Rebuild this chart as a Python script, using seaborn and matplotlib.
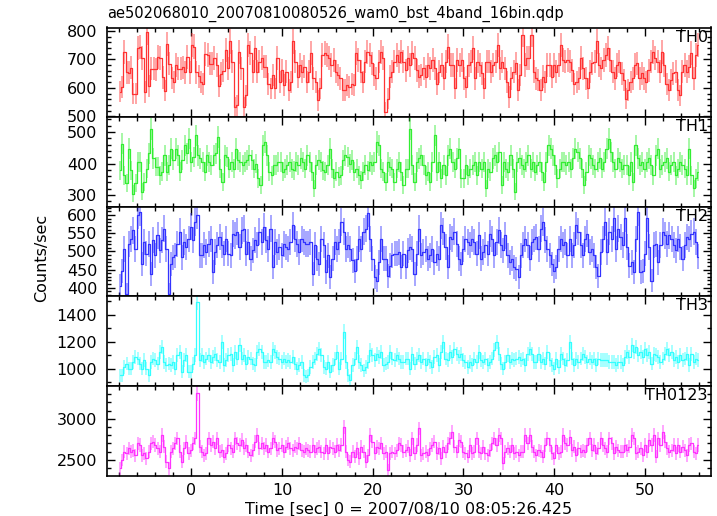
import numpy as np
import matplotlib
matplotlib.use("Agg")
import matplotlib.pyplot as plt
import seaborn as sns
from matplotlib.ticker import MultipleLocator

# light curve settings
T_START = -8.0
T_STOP = 56.0
BIN_EXPOSURE = 0.41  # effective live time per bin (s), used for poisson error bars

title = "ae502068010_20070810080526_wam0_bst_4band_16bin.qdp"
xlabel = "Time [sec] 0 = 2007/08/10 08:05:26.425"
ylabel = "Counts/sec"
names = ["TH0", "TH1", "TH2", "TH3", "TH0123"]

th0 = [
    587, 602, 726, 655, 653, 670, 579, 580, 739, 743, 704, 585, 796, 608, 667, 667,
    665, 708, 704, 637, 590, 755, 685, 635, 620, 680, 667, 667, 672, 655, 708, 655,
    750, 745, 655, 640, 620, 615, 720, 715, 685, 685, 704, 680, 608, 650,
    660, 733, 668, 763, 692, 533, 539, 727, 668, 533, 574, 751, 721, 657, 739, 657,
    692, 704, 674, 674, 615, 598, 645, 598, 704, 621, 662, 609, 657, 592, 621, 763,
    692, 639, 680, 657, 674, 621, 657, 721, 633, 621, 556, 598, 716, 721, 716, 704,
    680, 698, 657, 645, 633, 592, 592, 609, 603, 615, 609, 721, 698, 657, 621, 692,
    727, 716, 686, 645, 633, 692, 727, 704, 515, 562, 639, 657, 692, 716, 692, 727,
    692, 662, 704, 680,
    721, 704, 662, 639, 645, 668, 639, 680, 668, 698, 668, 615, 657, 680, 633, 692,
    745, 680, 680, 598, 698, 680, 698, 633, 603, 680, 692, 739, 633, 692, 680, 651,
    598, 692, 692, 657, 680, 692, 751, 668, 692, 668, 621, 568, 633, 657, 686, 592,
    645, 786, 680, 704, 704, 786, 657, 633, 627, 592, 639, 621, 680, 680, 639, 680,
    657, 680, 751, 698, 692, 698, 692, 662, 615, 621, 633, 704, 668, 633, 598, 657,
    686, 692, 763, 680, 668, 698, 716, 739, 698, 657, 633, 680, 692, 651, 627, 562,
    592, 621, 633, 680, 686, 633, 651, 633, 621, 662, 692, 727, 704, 692, 657, 727,
    680, 615, 592, 627, 651, 657, 592, 574, 657, 680, 657, 674, 721, 633, 716, 751,
]

th1 = [
    379, 463, 363, 337, 447, 379, 305, 337, 405, 405, 311, 342, 384, 432, 510, 416,
    390, 390, 363, 374, 426, 374, 395, 447, 411, 447, 426, 374, 411, 458, 432, 479,
    405, 421, 489, 426, 416, 405, 374, 426, 405, 395, 426, 432, 484, 384, 342, 426,
    421, 384, 405, 384, 447, 411, 405, 395, 405, 411, 426, 411, 384, 400, 353, 332,
    458, 468, 426, 374, 363, 395, 395, 405, 405, 374, 384, 395, 405, 384, 379, 405,
    395, 416, 405, 384, 426, 405, 374, 321, 395, 411, 405, 379, 374, 395, 447, 384,
    353, 374, 358, 363, 411, 426, 421, 400, 411, 374, 384, 363, 347, 374, 395, 379,
    405, 395, 405, 468, 458, 384, 374, 342, 405, 390, 384, 342, 384, 405, 374, 332,
    384, 384, 510, 395,
    342, 405, 416, 426, 395, 363, 374, 342, 405, 489, 374, 405, 353, 395, 363, 426,
    447, 405, 384, 416, 447, 353, 353, 395, 363, 384, 395, 405, 363, 405, 384, 405,
    321, 384, 374, 416, 426, 405, 437, 332, 405, 384, 374, 426, 384, 311, 405, 416,
    395, 384, 405, 426, 384, 405, 374, 395, 405, 374, 342, 405, 458, 447, 426, 395,
    353, 384, 405, 405, 395, 405, 384, 416, 447, 437, 416, 384, 332, 374, 426, 416,
    395, 384, 405, 416, 384, 405, 447, 479, 437, 405, 384, 416, 405, 384, 395, 395,
    363, 405, 342, 458, 416, 395, 405, 384, 405, 416, 395, 363, 426, 447, 384, 395,
    405, 416, 374, 395, 405, 363, 384, 405, 395, 384, 363, 447, 363, 321, 353, 374,
]

th2 = [
    406, 447, 507, 382, 521, 535, 558, 507, 600, 609, 466, 526, 494, 521, 438, 531,
    489, 544, 503, 531, 563, 507, 382, 466, 484, 489, 521, 554, 484, 526, 512, 535,
    568, 531, 581, 600, 489, 489, 517, 498, 521, 535, 443, 498, 517, 540, 517, 494,
    535, 494, 489, 549, 544, 554, 512, 558, 563, 494, 526, 480, 503, 531, 517, 554,
    526, 568, 531, 507, 563, 456, 526, 498, 512, 489, 521, 512, 507, 526, 572, 535,
    521, 498, 535, 526, 521, 521, 526, 438, 517, 480, 466, 535, 517, 443, 489, 429,
    480, 526, 507, 526, 581, 554, 507, 517, 507, 475, 447, 480, 535, 507, 554, 563,
    605, 535, 480, 429, 419, 470, 535, 480, 480, 433, 461, 489, 494, 494, 498, 456,
    494, 456, 503, 512, 507,
    438, 494, 563, 489, 498, 507, 480, 489, 507, 470, 494, 480, 572, 554, 512, 456,
    540, 535, 554, 521, 480, 466, 507, 535, 526, 517, 535, 526, 494, 544, 480, 498,
    517, 494, 549, 535, 489, 526, 558, 517, 503, 544, 489, 470, 480, 456, 452, 429,
    489, 517, 535, 517, 480, 526, 535, 540, 507, 563, 581, 531, 507, 489, 466, 447,
    456, 507, 535, 517, 526, 489, 535, 489, 517, 572, 554, 517, 489, 535, 549, 498,
    507, 489, 456, 433, 498, 535, 581, 498, 554, 535, 591, 507, 563, 540, 517, 591,
    512, 461, 470, 443, 535, 609, 443, 447, 494, 591, 512, 419, 517, 521, 470, 517,
    554, 544, 521, 544, 535, 517, 503, 535, 512, 480, 517, 540, 535, 549, 554, 526, 485,
]

th3 = [
    951, 951, 1012, 1037, 1000, 1000, 1049, 1086, 1074, 1037, 1000, 1062, 1000, 951, 1049, 1074,
    1062, 1037, 1123, 1160, 1049, 1025, 1037, 1025, 1049, 1000, 1099, 1123, 975, 1062, 1099, 975,
    975, 1037, 1099, 1494, 1062, 1099, 1049, 1074, 1099, 1049, 1086, 1111, 1062, 1049, 1198, 1025,
    1062, 1099, 1111, 1025, 1123, 1074, 1173, 1074, 1099, 1037, 1086, 1074, 1037, 1025, 1123, 1148,
    1123, 1049, 1049, 1062, 1049, 1148, 1123, 1086, 1074, 1049, 1074, 1049, 1062, 1049, 1086, 1037,
    1000, 1025, 1049, 951, 938, 951, 1012, 1049, 1074, 1111, 1148, 1099, 1012, 1000, 1049, 975,
    1025, 1074, 1123, 1000, 1074, 1272, 1049, 951, 914, 1025, 1074, 1160, 1049, 1025, 988, 1012,
    1049, 1136, 1099, 1062, 1111, 1086, 1123, 1025, 1037, 1049, 1123, 1074, 1062, 1099, 1074, 1049,
    1049, 1074, 1074, 1000, 1111, 1037,
    1074, 1099, 1049, 1074, 1025, 1074, 1049, 1012, 1086, 1099, 1025, 1123, 1198, 1074, 1062, 1123,
    1086, 1148, 1111, 1086, 1111, 1062, 1049, 1012, 1049, 1025, 1074, 1049, 1123, 1062, 1049, 1074,
    1025, 1049, 1074, 1136, 1198, 1111, 1037, 1000, 1049, 1099, 1049, 1074, 1062, 1074, 1086, 1062,
    1074, 1025, 1111, 1148, 1111, 1049, 1049, 1111, 1049, 1074, 1037, 1123, 1062, 1025, 1000, 1074,
    1012, 1111, 1074, 1025, 1062, 1198, 1074, 1025, 1074, 1049, 1074, 1111, 1086, 1049, 1074, 1049,
    1074, 1025, 1074, 1062, 1062, 1062, 1062, 1049, 1049, 1049, 1025, 1049, 1049, 1025, 1086, 1123,
    1086, 1173, 1123, 1160, 1099, 1123, 1086, 1148, 1099, 1123, 1037, 1111, 1099, 1086, 1049, 1074,
    1111, 1148, 1099, 1123, 1062, 1086, 1049, 1099, 1062, 1074, 1111, 1025, 1111, 1049, 1074, 1062,
]

th0123 = [
    2394, 2496, 2598, 2577, 2638, 2598, 2618, 2557, 2699, 2679, 2557, 2577, 2516, 2598, 2699, 2720,
    2679, 2638, 2598, 2801, 2659, 2476, 2394, 2598, 2638, 2699, 2760, 2598, 2476, 2638, 2720, 2577,
    2618, 2699, 2760, 3309, 2659, 2598, 2557, 2577, 2760, 2679, 2720, 2638, 2760, 2598, 2618, 2537,
    2577, 2679, 2638, 2598, 2760, 2699, 2679, 2740, 2638, 2679, 2598, 2557, 2618, 2720, 2801, 2638,
    2699, 2638, 2679, 2598, 2638, 2760, 2720, 2618, 2638, 2679, 2598, 2659, 2699, 2638, 2618, 2659,
    2638, 2699, 2618, 2598, 2638, 2618, 2598, 2679, 2598, 2638, 2659, 2598, 2577, 2679, 2577, 2659,
    2638, 2598, 2679, 2618, 2679, 2902, 2598, 2496, 2476, 2598, 2537, 2638, 2516, 2659, 2598, 2476,
    2557, 2801, 2720, 2577, 2659, 2638, 2699, 2577, 2598, 2374, 2577, 2598, 2577, 2618, 2699, 2679,
    2598, 2618, 2659, 2557, 2760, 2577,
    2679, 2882, 2557, 2577, 2598, 2557, 2638, 2679, 2720, 2577, 2638, 2516, 2659, 2598, 2699, 2760,
    2841, 2659, 2598, 2740, 2720, 2598, 2577, 2537, 2679, 2577, 2598, 2760, 2598, 2577, 2659, 2577,
    2557, 2618, 2699, 2760, 2679, 2801, 2760, 2455, 2598, 2638, 2598, 2679, 2577, 2598, 2557, 2598,
    2598, 2801, 2699, 2801, 2659, 2598, 2557, 2618, 2598, 2537, 2679, 2760, 2679, 2577, 2516, 2679,
    2577, 2598, 2801, 2699, 2679, 2780, 2618, 2659, 2557, 2638, 2598, 2618, 2598, 2679, 2760, 2618,
    2679, 2577, 2638, 2760, 2679, 2638, 2598, 2760, 2699, 2577, 2659, 2618, 2598, 2598, 2679, 2618,
    2659, 2801, 2760, 2577, 2598, 2638, 2557, 2679, 2598, 2740, 2679, 2801, 2537, 2760, 2679, 2841,
    2720, 2638, 2598, 2618, 2679, 2577, 2679, 2598, 2659, 2618, 2557, 2679, 2699, 2598, 2577, 2679,
]

series = [th0, th1, th2, th3, th0123]
colors = ["#ff3333", "#33ee33", "#3333ff", "#33ffff", "#ff33ff"]
ylims = [(497, 812), (263, 547), (376, 623), (870, 1536), (2305, 3399)]
major_steps = [100, 100, 50, 200, 500]
minor_steps = [20, 20, 10, 100, 100]

sns.set_style("ticks")
plt.rcParams['font.family'] = ['DejaVu Sans']
plt.rcParams['text.color'] = 'black'
plt.rcParams['axes.labelcolor'] = 'black'
plt.rcParams['xtick.color'] = 'black'
plt.rcParams['ytick.color'] = 'black'

fig, axes = plt.subplots(5, 1, sharex=True, figsize=(7.17, 5.16), dpi=100)
fig.subplots_adjust(left=107 / 717, right=711 / 717,
                    top=1 - 27.5 / 516, bottom=1 - 475.7 / 516, hspace=0)

for ax, name, vals, col, ylim, maj, mnr in zip(axes, names, series, colors,
                                               ylims, major_steps, minor_steps):
    rate = np.array(vals, dtype=float)
    n = len(rate)
    t = T_START + (np.arange(n) + 0.5) * (T_STOP - T_START) / n
    err = np.sqrt(rate / BIN_EXPOSURE)

    # poisson error bars (light) + binned light curve (solid steps)
    ax.errorbar(t, rate, yerr=err, fmt='none', ecolor=col, elinewidth=1.1, alpha=0.55)
    sns.lineplot(x=t, y=rate, ax=ax, color=col, lw=0.9,
                 drawstyle='steps-mid', estimator=None)

    ax.set_ylim(*ylim)
    ax.set_xlim(-9.3, 57.3)
    ax.yaxis.set_major_locator(MultipleLocator(maj))
    ax.yaxis.set_minor_locator(MultipleLocator(mnr))
    ax.xaxis.set_major_locator(MultipleLocator(10))
    ax.xaxis.set_minor_locator(MultipleLocator(2))
    ax.tick_params(which='both', direction='in', top=True, right=True,
                   labelsize=11.5, width=1, colors='black')
    ax.tick_params(which='major', length=6)
    ax.tick_params(which='minor', length=3)
    ax.tick_params(axis='y', pad=7)
    ax.tick_params(axis='x', pad=5)
    for sp in ax.spines.values():
        sp.set_linewidth(1.2)
        sp.set_color('black')
    ax.set_ylabel("")
    ax.text(0.995, 0.894, name, transform=ax.transAxes, ha='right', va='center',
            fontsize=11.5, color='black', zorder=5)

axes[-1].set_xlabel(xlabel, fontsize=11.5, labelpad=3, color='black')
fig.text(107 / 717, 1 - 14 / 516, title, ha='left', va='center', fontsize=10.5,
         color='black')
fig.text(42 / 717, 1 - 258 / 516, ylabel, rotation=90, ha='center', va='center',
         fontsize=11.5, color='black')

fig.savefig("out.png", dpi=100)
